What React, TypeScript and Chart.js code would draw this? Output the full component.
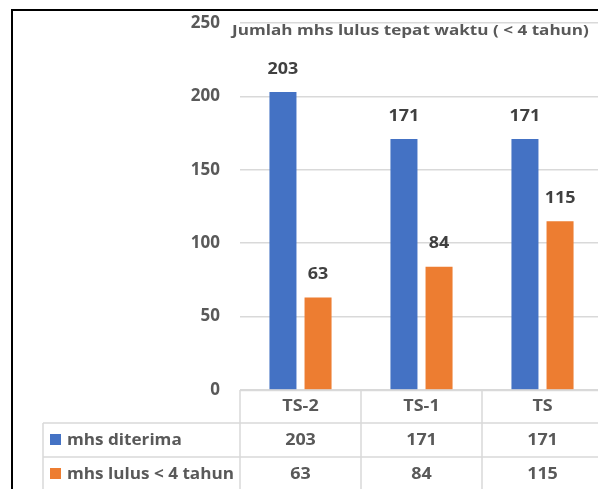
import React, { useEffect, useRef } from "react";
import { Chart, registerables } from "chart.js";

Chart.register(...registerables);

const categories = ["TS-2", "TS-1", "TS"];
const seriesNames = ["mhs diterima", "mhs lulus < 4 tahun"];
const diterima = [203, 171, 171];
const lulus = [63, 84, 115];
const yTickValues = [0, 50, 100, 150, 200, 250];
const chartTitle = "Jumlah mhs lulus tepat waktu ( < 4 tahun)";
const seriesColors = ["#4472C4", "#ED7D31"];

const FONT = "'Open Sans', 'Liberation Sans', sans-serif";
const GRID = "#D9D9D9";
const TEXT = "#595959";
const LABEL = "#404040";

function drawText(
  ctx: CanvasRenderingContext2D,
  text: string,
  x: number,
  y: number,
  align: CanvasTextAlign,
  sx: number
) {
  ctx.save();
  ctx.translate(x, y);
  ctx.scale(sx, 1);
  ctx.textAlign = align;
  ctx.textBaseline = "middle";
  ctx.fillText(text, 0, 0);
  ctx.restore();
}

const overlayPlugin = {
  id: "overlay",
  afterDraw(chart: any) {
    const { ctx, chartArea, scales } = chart;
    const x = scales.x;
    const left = chartArea.left;
    const bottom = chartArea.bottom;
    const right = chartArea.right;
    const cw = x.width / categories.length;
    const SX = 1.12;

    ctx.save();
    // data labels
    ctx.font = `bold 16px ${FONT}`;
    ctx.fillStyle = LABEL;
    chart.data.datasets.forEach((ds: any, di: number) => {
      const meta = chart.getDatasetMeta(di);
      meta.data.forEach((bar: any, i: number) => {
        drawText(ctx, String(ds.data[i]), bar.x, bar.y - 23, "center", SX);
      });
    });

    // title
    ctx.font = `bold 15px ${FONT}`;
    ctx.fillStyle = TEXT;
    drawText(ctx, chartTitle, 232, 31, "left", 1.14);

    // table
    const row1 = bottom + 33;
    const row2 = bottom + 67;
    const legLeft = 43;
    ctx.strokeStyle = GRID;
    ctx.lineWidth = 1.5;
    ctx.beginPath();
    ctx.moveTo(left, bottom + 0.5);
    ctx.lineTo(right, bottom + 0.5);
    ctx.moveTo(legLeft, row1);
    ctx.lineTo(right, row1);
    ctx.moveTo(legLeft, row2);
    ctx.lineTo(right, row2);
    ctx.moveTo(left, bottom);
    ctx.lineTo(left, chart.height);
    ctx.moveTo(legLeft, row1);
    ctx.lineTo(legLeft, chart.height);
    for (let i = 0; i < categories.length; i++) {
      const bx = x.getPixelForValue(i) + cw / 2;
      ctx.moveTo(bx, bottom);
      ctx.lineTo(bx, chart.height);
    }
    ctx.stroke();

    ctx.font = `bold 16px ${FONT}`;
    ctx.fillStyle = TEXT;
    categories.forEach((c, i) => {
      drawText(ctx, c, x.getPixelForValue(i), bottom + 16, "center", SX);
    });
    chart.data.datasets.forEach((ds: any, di: number) => {
      const cy = di === 0 ? row1 + 17 : row2 + 17;
      ds.data.forEach((v: number, i: number) => {
        ctx.fillStyle = TEXT;
        drawText(ctx, String(v), x.getPixelForValue(i), cy, "center", SX);
      });
      ctx.fillStyle = seriesColors[di];
      ctx.fillRect(50, cy - 6, 11, 11);
      ctx.fillStyle = TEXT;
      drawText(ctx, seriesNames[di], 67, cy, "left", 1.07);
    });

    // frame
    ctx.strokeStyle = "#000000";
    ctx.lineWidth = 2;
    ctx.beginPath();
    ctx.moveTo(12, chart.height);
    ctx.lineTo(12, 10);
    ctx.lineTo(chart.width, 10);
    ctx.stroke();
    ctx.restore();
  },
};

export default function App() {
  const ref = useRef<HTMLCanvasElement | null>(null);
  useEffect(() => {
    if (!ref.current) return;
    const chart = new Chart(ref.current, {
      type: "bar",
      data: {
        labels: categories,
        datasets: [
          {
            label: seriesNames[0],
            data: diterima,
            backgroundColor: seriesColors[0],
            categoryPercentage: 0.58,
            barPercentage: 0.77,
          },
          {
            label: seriesNames[1],
            data: lulus,
            backgroundColor: seriesColors[1],
            categoryPercentage: 0.58,
            barPercentage: 0.77,
          },
        ],
      },
      options: {
        animation: false,
        responsive: false,
        devicePixelRatio: 1,
        layout: { padding: { top: 23, bottom: 99, left: 0, right: 7 } },
        plugins: {
          legend: { display: false },
          title: { display: false },
          tooltip: { enabled: false },
        },
        scales: {
          x: { display: false },
          y: {
            min: yTickValues[0],
            max: yTickValues[yTickValues.length - 1],
            afterBuildTicks: (scale: any) => {
              scale.ticks = yTickValues.map((v) => ({ value: v }));
            },
            afterFit: (scale: any) => {
              scale.width = 240;
              scale.paddingTop = 0;
              scale.paddingBottom = 0;
            },
            grid: { color: GRID, lineWidth: 1.5, drawTicks: false },
            border: { display: false },
            ticks: {
              color: TEXT,
              padding: 20,
              font: { family: FONT, size: 17, weight: "bold" },
            },
          },
        },
      },
      plugins: [overlayPlugin],
    });
    return () => chart.destroy();
  }, []);
  return (
    <div
      style={{
        position: "fixed",
        left: 0,
        top: 0,
        width: 598,
        height: 489,
        overflow: "hidden",
        background: "#fff",
      }}
    >
      <canvas ref={ref} width={610} height={489} style={{ display: "block" }} />
    </div>
  );
}
